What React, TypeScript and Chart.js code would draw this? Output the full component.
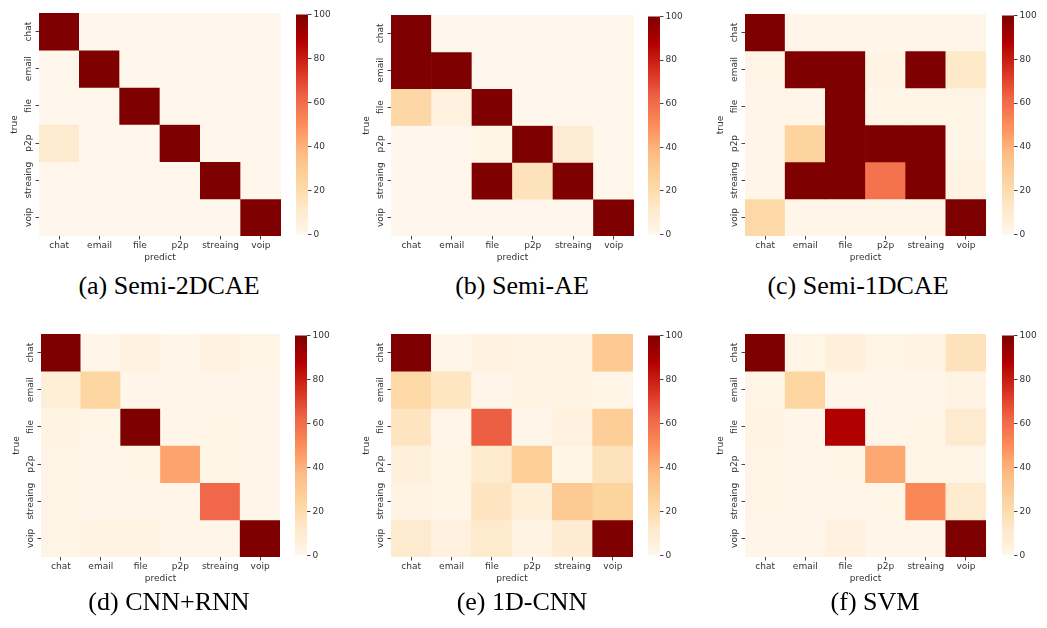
import React, { useEffect, useRef } from "react";
import { Chart, registerables } from "chart.js";

Chart.register(...registerables);

// ---------- data ----------
const CATEGORIES = ["chat", "email", "file", "p2p", "streaing", "voip"];
const COLORBAR_TICKS = [0, 20, 40, 60, 80, 100];
const X_TITLE = "predict";
const Y_TITLE = "true";

const SEMI_2DCAE = [
  [100, 0, 0, 0, 0, 0],
  [0, 100, 0, 0, 0, 0],
  [0, 0, 100, 0, 0, 0],
  [10, 0, 0, 100, 0, 0],
  [0, 0, 0, 0, 100, 0],
  [0, 0, 0, 0, 0, 100],
];
const SEMI_AE = [
  [100, 0, 0, 0, 0, 0],
  [100, 100, 0, 0, 0, 0],
  [23, 5, 100, 0, 0, 0],
  [0, 0, 2, 100, 8, 0],
  [0, 0, 100, 16, 100, 0],
  [0, 0, 0, 0, 0, 100],
];
const SEMI_1DCAE = [
  [100, 1, 1, 1, 1, 1],
  [2, 100, 100, 3, 100, 12],
  [1, 1, 100, 2, 2, 2],
  [1, 25, 100, 100, 100, 2],
  [1, 100, 100, 58, 100, 3],
  [22, 1, 1, 1, 1, 100],
];
const CNN_RNN = [
  [100, 1, 4, 1, 4, 2],
  [7, 24, 1, 1, 1, 1],
  [3, 2, 100, 1, 2, 1],
  [2, 1, 2, 44, 2, 1],
  [2, 1, 1, 1, 62, 1],
  [2, 3, 3, 1, 1, 100],
];
const CNN_1D = [
  [100, 1, 4, 3, 3, 31],
  [22, 14, 1, 3, 3, 2],
  [15, 1, 64, 1, 5, 28],
  [6, 2, 11, 27, 2, 16],
  [3, 2, 15, 7, 30, 25],
  [10, 5, 11, 3, 9, 100],
];
const SVM = [
  [100, 2, 6, 2, 3, 16],
  [2, 24, 1, 1, 1, 3],
  [3, 1, 88, 1, 2, 10],
  [2, 1, 2, 43, 2, 2],
  [2, 1, 1, 2, 52, 10],
  [1, 1, 5, 1, 1, 100],
];

const MATRICES = [SEMI_2DCAE, SEMI_AE, SEMI_1DCAE, CNN_RNN, CNN_1D, SVM];
const CAPTIONS = [
  "(a) Semi-2DCAE",
  "(b) Semi-AE",
  "(c) Semi-1DCAE",
  "(d) CNN+RNN",
  "(e) 1D-CNN",
  "(f) SVM",
];

// ---------- layout / style ----------
// area: [left, top, right, bottom] of heatmap; bar: [left, right] of colorbar; cap: [centerX, centerY]
const LAYOUT = [
  { area: [39, 13, 281, 236], bar: [296, 308], cap: [169, 286] },
  { area: [391, 15, 634, 236], bar: [648, 660], cap: [522, 286] },
  { area: [745, 14, 986, 236], bar: [1002, 1014], cap: [858, 286] },
  { area: [41, 334, 280, 557], bar: [295, 307], cap: [169, 602] },
  { area: [391, 334, 633, 557], bar: [648, 660], cap: [522, 602] },
  { area: [745, 334, 986, 557], bar: [1002, 1014], cap: [875, 602] },
];

const OR_RD = [
  "#fff7ec",
  "#fee8c8",
  "#fdd49e",
  "#fdbb84",
  "#fc8d59",
  "#ef6548",
  "#d7301f",
  "#b30000",
  "#7f0000",
];
const VMIN = 0;
const VMAX = 100;
const FONT = { family: "'DejaVu Sans', sans-serif", size: 9 };
const TEXT_COLOR = "#333333";
const TICK_COLOR = "#444444";

function hexToRgb(h: string): number[] {
  const n = parseInt(h.slice(1), 16);
  return [(n >> 16) & 255, (n >> 8) & 255, n & 255];
}
const OR_RD_RGB = OR_RD.map(hexToRgb);

function orRd(v: number): string {
  let t = (v - VMIN) / (VMAX - VMIN);
  t = Math.max(0, Math.min(1, t));
  const pos = t * (OR_RD_RGB.length - 1);
  const i = Math.min(Math.floor(pos), OR_RD_RGB.length - 2);
  const f = pos - i;
  const a = OR_RD_RGB[i];
  const b = OR_RD_RGB[i + 1];
  const c = a.map((x, k) => Math.round(x + (b[k] - x) * f));
  return `rgb(${c[0]},${c[1]},${c[2]})`;
}

const Y_AXIS_W = 45;
const X_AXIS_H = 32;
const PAD = 4;

const yLabelPlugin = {
  id: "yLabels",
  afterDraw(chart: any) {
    const ys = chart.scales.y;
    const { ctx, chartArea } = chart;
    ctx.save();
    ctx.font = `${FONT.size}px ${FONT.family}`;
    ctx.fillStyle = TEXT_COLOR;
    ctx.textAlign = "center";
    ctx.textBaseline = "middle";
    ys.ticks.forEach((t: any, i: number) => {
      const py = ys.getPixelForValue(t.value);
      ctx.save();
      ctx.translate(chartArea.left - 10.5, py);
      ctx.rotate(-Math.PI / 2);
      ctx.fillText(CATEGORIES[i], 0, 0);
      ctx.restore();
    });
    ctx.restore();
  },
};

function Heatmap({ matrix, area }: { matrix: number[][]; area: number[] }) {
  const ref = useRef<HTMLCanvasElement>(null);
  const [l, t, r, b] = area;
  const w = Y_AXIS_W + (r - l) + PAD;
  const h = PAD + (b - t) + X_AXIS_H;
  useEffect(() => {
    if (!ref.current) return;
    const chart = new Chart(ref.current, {
      type: "bar",
      data: {
        labels: CATEGORIES,
        datasets: matrix.map((row, ri) => ({
          label: CATEGORIES[ri],
          data: row.map(() => 1),
          backgroundColor: row.map(orRd),
          borderWidth: 0,
          barPercentage: 1,
          categoryPercentage: 1,
          stack: "rows",
        })),
      },
      options: {
        responsive: false,
        animation: false,
        devicePixelRatio: 1,
        layout: { padding: { top: PAD, right: PAD, left: 0, bottom: 0 } },
        plugins: { legend: { display: false }, tooltip: { enabled: false } },
        scales: {
          x: {
            type: "category",
            stacked: true,
            offset: true,
            grid: {
              offset: false,
              drawOnChartArea: false,
              drawTicks: true,
              tickLength: 3.5,
              color: TICK_COLOR,
            },
            border: { display: false },
            ticks: {
              font: FONT,
              color: TEXT_COLOR,
              padding: 1,
              maxRotation: 0,
              autoSkip: false,
            },
            title: {
              display: true,
              text: X_TITLE,
              font: FONT,
              color: TEXT_COLOR,
              padding: { top: 0, bottom: 5 },
            },
            afterFit: (s: any) => {
              s.height = X_AXIS_H;
            },
          },
          y: {
            type: "linear",
            min: 0,
            max: CATEGORIES.length,
            reverse: true,
            stacked: true,
            afterBuildTicks: (s: any) => {
              s.ticks = CATEGORIES.map((_, i) => ({ value: i + 0.5 }));
            },
            ticks: { display: false },
            grid: {
              drawOnChartArea: false,
              drawTicks: true,
              tickLength: 3.5,
              color: TICK_COLOR,
            },
            border: { display: false },
            title: {
              display: true,
              text: Y_TITLE,
              font: FONT,
              color: TEXT_COLOR,
              padding: { top: 15.3, bottom: 0 },
            },
            afterFit: (s: any) => {
              s.width = Y_AXIS_W;
            },
          },
        },
      },
      plugins: [yLabelPlugin],
    } as any);
    return () => chart.destroy();
  }, [matrix]);
  return (
    <canvas
      ref={ref}
      width={w}
      height={h}
      style={{
        position: "absolute",
        left: l - Y_AXIS_W,
        top: t - PAD,
        width: w,
        height: h,
      }}
    />
  );
}

const CB_AXIS_W = 30;
const CB_PAD = 6;

function Colorbar({ bar, area }: { bar: number[]; area: number[] }) {
  const ref = useRef<HTMLCanvasElement>(null);
  const [bl, br] = bar;
  const t = area[1];
  const b = area[3];
  const w = br - bl + CB_AXIS_W;
  const h = b - t + CB_PAD * 2;
  useEffect(() => {
    if (!ref.current) return;
    const chart = new Chart(ref.current, {
      type: "bar",
      data: {
        labels: [""],
        datasets: [
          {
            data: [VMAX],
            base: VMIN,
            borderWidth: 0,
            barPercentage: 1,
            categoryPercentage: 1,
            backgroundColor: (ctx: any) => {
              const c = ctx.chart;
              const a = c.chartArea;
              if (!a) return OR_RD[0];
              const g = c.ctx.createLinearGradient(0, a.bottom, 0, a.top);
              OR_RD.forEach((col, i) => g.addColorStop(i / (OR_RD.length - 1), col));
              return g;
            },
          },
        ],
      },
      options: {
        responsive: false,
        animation: false,
        devicePixelRatio: 1,
        layout: { padding: { top: CB_PAD, bottom: CB_PAD, left: 0, right: 0 } },
        plugins: { legend: { display: false }, tooltip: { enabled: false } },
        scales: {
          x: { display: false, offset: true },
          y: {
            position: "right",
            min: VMIN,
            max: VMAX,
            afterBuildTicks: (s: any) => {
              s.ticks = COLORBAR_TICKS.map((v) => ({ value: v }));
            },
            ticks: { font: FONT, color: TEXT_COLOR, padding: 2 },
            grid: {
              drawOnChartArea: false,
              drawTicks: true,
              tickLength: 3.5,
              color: TICK_COLOR,
            },
            border: { display: false },
            afterFit: (s: any) => {
              s.width = CB_AXIS_W;
            },
          },
        },
      },
    } as any);
    return () => chart.destroy();
  }, []);
  return (
    <canvas
      ref={ref}
      width={w}
      height={h}
      style={{ position: "absolute", left: bl, top: t - CB_PAD, width: w, height: h }}
    />
  );
}

export default function App() {
  return (
    <div
      style={{
        position: "absolute",
        left: 0,
        top: 0,
        width: 1047,
        height: 628,
        background: "#ffffff",
        overflow: "hidden",
      }}
    >
      {LAYOUT.map((p, i) => (
        <React.Fragment key={i}>
          <Heatmap matrix={MATRICES[i]} area={p.area} />
          <Colorbar bar={p.bar} area={p.area} />
          <div
            style={{
              position: "absolute",
              left: p.cap[0] - 150,
              top: p.cap[1] - 16,
              width: 300,
              height: 32,
              lineHeight: "32px",
              textAlign: "center",
              fontFamily: "'Liberation Serif', 'Times New Roman', serif",
              fontSize: 26,
              color: "#000",
              whiteSpace: "nowrap",
            }}
          >
            {CAPTIONS[i]}
          </div>
        </React.Fragment>
      ))}
    </div>
  );
}
